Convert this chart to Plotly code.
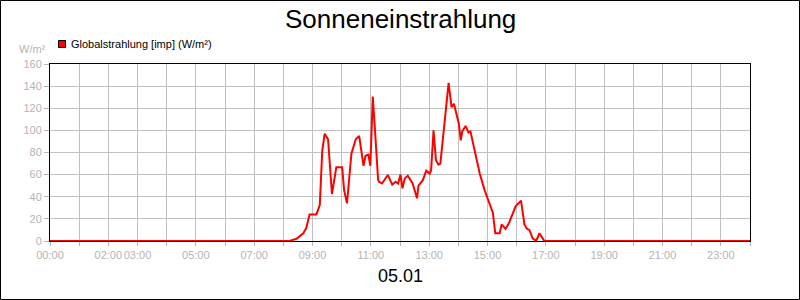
import plotly.graph_objects as go

# ---- data ----
times = ["00:00", "08:13", "08:27", "08:41", "08:47", "08:54", "09:08", "09:15", "09:20", "09:25",
         "09:32", "09:40", "09:49", "10:01", "10:05", "10:11", "10:20", "10:29", "10:36", "10:45",
         "10:49", "10:55", "10:59", "11:04", "11:10", "11:15", "11:17", "11:23", "11:35", "11:44",
         "11:51", "11:56", "12:01", "12:05", "12:10", "12:16", "12:26", "12:35", "12:38", "12:47",
         "12:54", "13:01", "13:04", "13:09", "13:14", "13:19", "13:23", "13:32", "13:40", "13:46",
         "13:51", "13:56", "14:01", "14:05", "14:08", "14:15", "14:21", "14:25", "14:33", "14:44",
         "14:54", "15:04", "15:11", "15:16", "15:25", "15:29", "15:37", "15:44", "15:58", "16:09",
         "16:16", "16:21", "16:26", "16:33", "16:40", "16:47", "16:57", "24:00"]
values = [0, 0, 2, 7, 11.5, 24, 24, 32.5, 81, 97,
          92, 42.5, 66.6, 66.6, 46, 34, 79, 92, 95, 68,
          77, 78, 68, 130.5, 90, 55, 53.6, 52, 59.7, 51,
          53.6, 52, 60, 47.6, 56.7, 59, 52, 38.6, 50, 55,
          63.6, 61, 64, 100, 73, 69, 70, 109, 143, 121,
          124, 115, 106, 91, 99, 104, 98, 99, 82, 61,
          46, 34, 25.6, 7, 7, 15, 11, 16, 31.6, 36.4,
          15, 11, 10, 2.4, 0, 7, 0, 0]

tick_hours = list(range(25))
tick_labels = {0: "00:00", 2: "02:00", 3: "03:00", 5: "05:00", 7: "07:00", 9: "09:00",
               11: "11:00", 13: "13:00", 15: "15:00", 17: "17:00", 19: "19:00",
               21: "21:00", 23: "23:00"}
y_ticks = [0, 20, 40, 60, 80, 100, 120, 140, 160]

title_text = "Sonneneinstrahlung"
date_text = "05.01"
series_name = "Globalstrahlung [imp] (W/m²)"
unit_text = "W/m²"


def to_hours(t):
    h, m = t.split(":")
    return int(h) + int(m) / 60.0


x_hours = [to_hours(t) for t in times]

FONT = "Liberation Sans, Arial, sans-serif"
GRAY = "#b4b4b4"
GRID = "#c0c0c0"

L, R, T, B = 50, 50, 64, 59
W, H = 800, 300
PW, PH = W - L - R, H - T - B


def px(xp):
    return (xp - L) / PW


def py(yp):
    return (H - B - yp) / PH


fig = go.Figure()
fig.add_trace(go.Scatter(x=x_hours, y=values, mode="lines",
                         line=dict(color="#ff0000", width=2), name=series_name,
                         showlegend=False, hoverinfo="x+y"))

fig.update_layout(
    width=W, height=H, margin=dict(l=L, r=R, t=T, b=B, pad=0),
    paper_bgcolor="white", plot_bgcolor="white",
    font=dict(family=FONT, size=11, color=GRAY),
    xaxis=dict(range=[0, 24], tickmode="array", tickvals=tick_hours,
               ticktext=[tick_labels.get(h, "") for h in tick_hours],
               tickangle=0,
               showgrid=True, gridcolor=GRID, gridwidth=1,
               showline=True, linecolor="black", linewidth=1, mirror=True,
               ticks="outside", ticklen=4, tickcolor=GRAY, tickwidth=1,
               tickfont=dict(family=FONT, size=11, color=GRAY), zeroline=False,
               fixedrange=True),
    yaxis=dict(range=[0, 160], tickmode="array", tickvals=y_ticks,
               showgrid=True, gridcolor=GRID, gridwidth=1,
               showline=True, linecolor="black", linewidth=1, mirror=True,
               ticks="outside", ticklen=5, tickcolor=GRAY, tickwidth=1,
               tickfont=dict(family=FONT, size=11, color=GRAY), zeroline=False,
               fixedrange=True),
    shapes=[
        dict(type="rect", xref="paper", yref="paper",
             x0=px(0.5), x1=px(799.5), y0=py(299.5), y1=py(0.5),
             line=dict(color="black", width=1), fillcolor="rgba(0,0,0,0)", layer="above"),
        dict(type="rect", xref="paper", yref="paper",
             x0=px(58.5), x1=px(65.5), y0=py(47.5), y1=py(40.5),
             line=dict(color="black", width=1), fillcolor="#ff0000"),
    ],
    annotations=[
        dict(text=title_text, xref="paper", yref="paper", x=px(400), y=py(19),
             xanchor="center", yanchor="middle", showarrow=False,
             font=dict(family=FONT, size=26, color="black")),
        dict(text=date_text, xref="paper", yref="paper", x=px(400), y=py(276),
             xanchor="center", yanchor="middle", showarrow=False,
             font=dict(family=FONT, size=18, color="black")),
        dict(text=series_name, xref="paper", yref="paper", x=px(69), y=py(44),
             xanchor="left", yanchor="middle", showarrow=False,
             font=dict(family=FONT, size=11, color="black")),
        dict(text=unit_text, xref="paper", yref="paper", x=px(48), y=py(49),
             xanchor="right", yanchor="middle", showarrow=False,
             font=dict(family=FONT, size=11, color=GRAY)),
    ],
)

fig.write_html("out.html")
